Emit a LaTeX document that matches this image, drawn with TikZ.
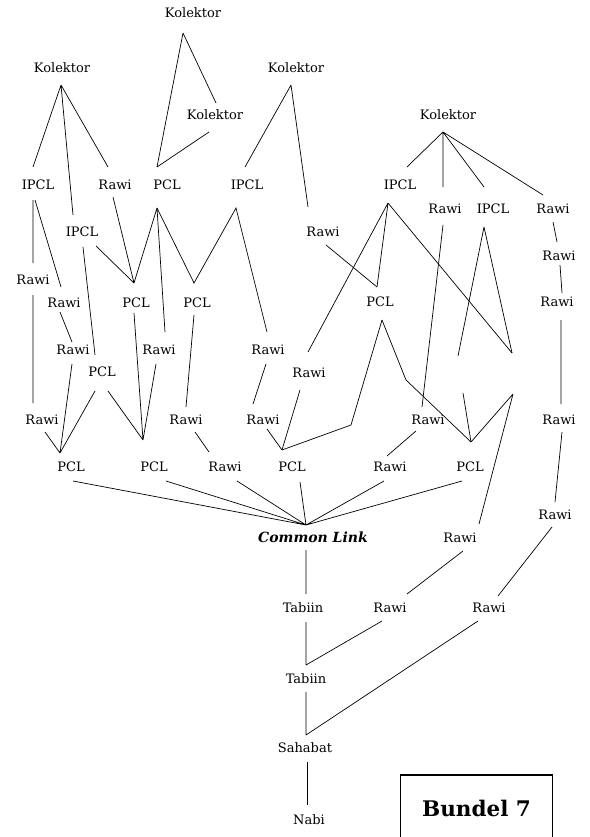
\documentclass[tikz,border=0pt]{standalone}
\usepackage{fontspec}
\setmainfont{DejaVu Serif}
\begin{document}
\begin{tikzpicture}[x=1pt,y=-1pt,
  lbl/.style={inner sep=0pt, font=\fontsize{13}{15}\selectfont},
  cl/.style={inner sep=0pt, font=\fontsize{14}{16}\selectfont\bfseries\itshape},
  titlebox/.style={draw, line width=1.6pt, minimum width=152pt, minimum height=66pt,
    inner sep=0pt, font=\fontsize{21.5}{24}\selectfont\bfseries},
  link/.style={draw, line width=0.7pt, line join=miter}]
\useasboundingbox (0,0) rectangle (589,837);

% ---------- labels ----------
\node[lbl] (kolA) at (193,13) {Kolektor};
\node[lbl] (kolB) at (62,68) {Kolektor};
\node[lbl] (kolC) at (215,115) {Kolektor};
\node[lbl] (kolD) at (296,68) {Kolektor};
\node[lbl] (kolE) at (448,115) {Kolektor};

\node[lbl] (ipA) at (38,185) {IPCL};
\node[lbl] (rwA) at (115,185) {Rawi};
\node[lbl] (pcA) at (167,185) {PCL};
\node[lbl] (ipB) at (247,185) {IPCL};
\node[lbl] (ipC) at (400,185) {IPCL};
\node[lbl] (rwB) at (445,209) {Rawi};
\node[lbl] (ipD) at (493,209) {IPCL};
\node[lbl] (rwC) at (553,209) {Rawi};
\node[lbl] (ipE) at (82,232) {IPCL};
\node[lbl] (rwD) at (323,232) {Rawi};
\node[lbl] (rwE) at (33,280) {Rawi};
\node[lbl] (rwF) at (559,256) {Rawi};
\node[lbl] (rwG) at (64,303) {Rawi};
\node[lbl] (pcB) at (136,303) {PCL};
\node[lbl] (pcC) at (197,303) {PCL};
\node[lbl] (pcD) at (380,302) {PCL};
\node[lbl] (rwH) at (557,302) {Rawi};
\node[lbl] (rwI) at (73,350) {Rawi};
\node[lbl] (rwJ) at (159,350) {Rawi};
\node[lbl] (rwK) at (268,350) {Rawi};
\node[lbl] (pcE) at (102,372) {PCL};
\node[lbl] (rwL) at (309,373) {Rawi};
\node[lbl] (rwM) at (42,420) {Rawi};
\node[lbl] (rwN) at (186,420) {Rawi};
\node[lbl] (rwO) at (263,420) {Rawi};
\node[lbl] (rwP) at (428,420) {Rawi};
\node[lbl] (rwQ) at (559,420) {Rawi};
\node[lbl] (pcF) at (71,467) {PCL};
\node[lbl] (pcG) at (154,467) {PCL};
\node[lbl] (rwR) at (225,467) {Rawi};
\node[lbl] (pcH) at (292,467) {PCL};
\node[lbl] (rwS) at (390,467) {Rawi};
\node[lbl] (pcI) at (470,467) {PCL};
\node[lbl] (rwT) at (555,515) {Rawi};
\node[cl]  (cl)  at (313,537) {Common Link};
\node[lbl] (rwU) at (460,538) {Rawi};
\node[lbl] (tbA) at (303,608) {Tabiin};
\node[lbl] (rwV) at (390,608) {Rawi};
\node[lbl] (rwW) at (489,608) {Rawi};
\node[lbl] (tbB) at (306,679) {Tabiin};
\node[lbl] (shb) at (305,748) {Sahabat};
\node[lbl] (nabi) at (309,820) {Nabi};
\node[titlebox] (bundel) at (476.5,808) {Bundel 7};

% ---------- connector end points ----------
\coordinate (kolA-f) at (183,33);
\coordinate (kolC-t) at (216,103);
\coordinate (kolC-f) at (209,132);
\coordinate (pcA-t) at (157,167);
\coordinate (kolB-f) at (61,85);
\coordinate (ipA-t) at (33,167);
\coordinate (ipE-t) at (73,215);
\coordinate (rwA-t) at (108,167);
\coordinate (kolD-f) at (291,85);
\coordinate (ipB-t) at (245,167);
\coordinate (rwD-t) at (308,207);
\coordinate (kolE-f) at (443,132);
\coordinate (ipC-t) at (407,167);
\coordinate (rwB-t) at (443,187);
\coordinate (ipD-t) at (484,187);
\coordinate (rwC-t) at (543,195);

\coordinate (ipA-f) at (33,200);
\coordinate (ipA-g) at (35,200);
\coordinate (rwE-t) at (33,263);
\coordinate (rwG-t) at (61,287);
\coordinate (ipE-f) at (83,247);
\coordinate (ipE-g) at (96,246);
\coordinate (pcE-t) at (95,355);
\coordinate (pcB-t) at (134,283);
\coordinate (rwA-f) at (113,197);
\coordinate (pcA-f) at (157,208);
\coordinate (rwJ-t) at (165,332);
\coordinate (pcC-t) at (194,283);
\coordinate (ipB-f) at (236,208);
\coordinate (rwK-t) at (267,332);

\coordinate (rwE-f) at (33,295);
\coordinate (rwM-t) at (33,403);
\coordinate (rwG-f) at (60,312);
\coordinate (rwI-t) at (72,342);
\coordinate (rwI-f) at (72,364);
\coordinate (pcF-t) at (60,453);
\coordinate (pcE-f) at (95,391);
\coordinate (pcE-g) at (108,391);
\coordinate (pcG-t) at (143,440);
\coordinate (pcB-f) at (134,313);
\coordinate (rwJ-f) at (156,364);
\coordinate (pcC-f) at (194,315);
\coordinate (rwN-t) at (186,407);
\coordinate (rwK-f) at (266,364);
\coordinate (rwO-t) at (253,404);
\coordinate (rwM-f) at (45,432);
\coordinate (rwN-f) at (195,432);
\coordinate (rwR-t) at (209,452);
\coordinate (rwO-f) at (267,429);
\coordinate (pcH-t) at (282,450);
\coordinate (rwL-f) at (300,390);

\coordinate (rwD-f) at (326,245);
\coordinate (pcD-t) at (377,287);
\coordinate (ipC-f) at (388,203);
\coordinate (rwL-t) at (308,352);
\coordinate (pcD-f) at (382,320);
\coordinate (bendL) at (351,425);
\coordinate (bendR) at (406,380);
\coordinate (pcI-t) at (471,442);
\coordinate (rwB-f) at (443,225);
\coordinate (rwP-t) at (422,407);
\coordinate (ipD-f) at (484,227);
\coordinate (gapL-t) at (458,356);
\coordinate (gapL-f) at (463,393);
\coordinate (gapR-t) at (512,353);
\coordinate (gapR-f) at (513,394);
\coordinate (rwU-t) at (479,524);
\coordinate (rwP-f) at (416,431);
\coordinate (rwS-t) at (387,456);

\coordinate (rwC-f) at (553,222);
\coordinate (rwF-t) at (557,242);
\coordinate (rwF-f) at (560,265);
\coordinate (rwH-t) at (562,293);
\coordinate (rwH-f) at (561,320);
\coordinate (rwQ-t) at (561,404);
\coordinate (rwQ-f) at (562,432);
\coordinate (rwT-t) at (555,502);

\coordinate (pcF-f) at (73,481);
\coordinate (pcG-f) at (166,481);
\coordinate (rwR-f) at (237,481);
\coordinate (pcH-f) at (300,482);
\coordinate (rwS-f) at (384,481);
\coordinate (pcI-f) at (462,481);
\coordinate (cl-t) at (306,525);
\coordinate (cl-f) at (306,550);
\coordinate (tbA-t) at (306,594);
\coordinate (rwU-f) at (463,551);
\coordinate (rwV-t) at (407,594);
\coordinate (rwT-f) at (552,527);
\coordinate (rwW-t) at (498,596);
\coordinate (tbA-f) at (306,622);
\coordinate (tbB-t) at (306,665);
\coordinate (rwV-f) at (382,621);
\coordinate (tbB-f) at (306,692);
\coordinate (shb-t) at (306,735);
\coordinate (rwW-f) at (478,621);
\coordinate (shb-f) at (307,762);
\coordinate (nabi-t) at (307,805);

% ---------- connectors ----------
% collectors
\path[link] (kolA-f) -- (pcA-t)  (kolA-f) -- (kolC-t)  (kolC-f) -- (pcA-t);
\path[link] (kolB-f) -- (ipA-t)  (kolB-f) -- (ipE-t)  (kolB-f) -- (rwA-t);
\path[link] (kolD-f) -- (ipB-t)  (kolD-f) -- (rwD-t);
\path[link] (kolE-f) -- (ipC-t)  (kolE-f) -- (rwB-t)  (kolE-f) -- (ipD-t)  (kolE-f) -- (rwC-t);

% left block
\path[link] (ipA-f) -- (rwE-t)  (ipA-g) -- (rwG-t);
\path[link] (ipE-f) -- (pcE-t)  (ipE-g) -- (pcB-t)  (rwA-f) -- (pcB-t);
\path[link] (pcA-f) -- (pcB-t)  (pcA-f) -- (rwJ-t);
\path[link] (pcA-f) -- (pcC-t) -- (ipB-f) -- (rwK-t);
\path[link] (rwE-f) -- (rwM-t)  (rwG-f) -- (rwI-t);
\path[link] (rwI-f) -- (pcF-t)  (pcE-f) -- (pcF-t)  (rwM-f) -- (pcF-t);
\path[link] (pcE-g) -- (pcG-t)  (pcB-f) -- (pcG-t)  (rwJ-f) -- (pcG-t);
\path[link] (pcC-f) -- (rwN-t)  (rwN-f) -- (rwR-t);
\path[link] (rwK-f) -- (rwO-t)  (rwO-f) -- (pcH-t)  (rwL-f) -- (pcH-t);

% right block
\path[link] (rwD-f) -- (pcD-t);
\path[link] (ipC-f) -- (rwL-t)  (ipC-f) -- (pcD-t)  (ipC-f) -- (gapR-t);
\path[link] (pcD-f) -- (bendL) -- (pcH-t);
\path[link] (pcD-f) -- (bendR) -- (pcI-t);
\path[link] (rwB-f) -- (rwP-t)  (rwP-f) -- (rwS-t);
\path[link] (ipD-f) -- (gapL-t)  (ipD-f) -- (gapR-t);
\path[link] (gapL-f) -- (pcI-t)  (gapR-f) -- (pcI-t)  (gapR-f) -- (rwU-t);
\path[link] (rwC-f) -- (rwF-t)  (rwF-f) -- (rwH-t)  (rwH-f) -- (rwQ-t)  (rwQ-f) -- (rwT-t);

% into the common link
\path[link] (pcF-f) -- (cl-t)  (pcG-f) -- (cl-t)  (rwR-f) -- (cl-t)
            (pcH-f) -- (cl-t)  (rwS-f) -- (cl-t)  (pcI-f) -- (cl-t);

% trunk
\path[link] (cl-f) -- (tbA-t)  (rwU-f) -- (rwV-t)  (rwT-f) -- (rwW-t);
\path[link] (tbA-f) -- (tbB-t)  (rwV-f) -- (tbB-t);
\path[link] (tbB-f) -- (shb-t)  (rwW-f) -- (shb-t);
\path[link] (shb-f) -- (nabi-t);
\end{tikzpicture}
\end{document}
